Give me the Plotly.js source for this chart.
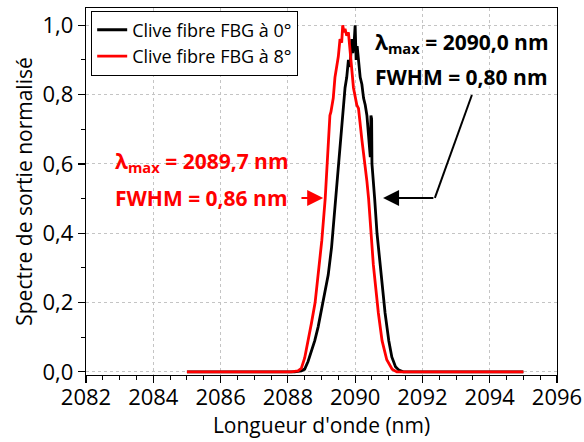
<!DOCTYPE html>
<html>
<head>
<meta charset="utf-8">
<script src="https://cdn.plot.ly/plotly-3.0.1.min.js"></script>
<style>html,body{margin:0;padding:0;background:#fff;}#chart{width:584px;height:442px;}</style>
</head>
<body>
<div id="chart"></div>
<script>
// Clive fibre FBG à 0° (black)
const x0 = [2085, 2088.2, 2088.4, 2088.5, 2088.6, 2088.7, 2088.8, 2088.9, 2089.0, 2089.1, 2089.2, 2089.3, 2089.4, 2089.45, 2089.5, 2089.55, 2089.6, 2089.65, 2089.7, 2089.75, 2089.8, 2089.85, 2089.9, 2089.93, 2089.97, 2090.0, 2090.03, 2090.06, 2090.1, 2090.15, 2090.2, 2090.25, 2090.3, 2090.35, 2090.4, 2090.45, 2090.47, 2090.49, 2090.5, 2090.53, 2090.58, 2090.65, 2090.74, 2090.8, 2090.89, 2091.0, 2091.09, 2091.2, 2091.3, 2091.43, 2095];
const y0 = [0, 0, 0.003, 0.008, 0.03, 0.06, 0.09, 0.13, 0.18, 0.23, 0.28, 0.36, 0.48, 0.54, 0.58, 0.66, 0.71, 0.77, 0.82, 0.85, 0.90, 0.88, 0.96, 0.92, 0.95, 1.0, 0.90, 0.94, 0.89, 0.85, 0.83, 0.79, 0.77, 0.74, 0.68, 0.62, 0.74, 0.73, 0.60, 0.55, 0.50, 0.40, 0.31, 0.25, 0.17, 0.09, 0.043, 0.015, 0.005, 0, 0];
// Clive fibre FBG à 8° (red)
const x8 = [2085, 2088.1, 2088.3, 2088.4, 2088.5, 2088.61, 2088.7, 2088.81, 2088.9, 2089.01, 2089.11, 2089.16, 2089.21, 2089.25, 2089.28, 2089.35, 2089.4, 2089.45, 2089.5, 2089.55, 2089.6, 2089.63, 2089.67, 2089.7, 2089.75, 2089.8, 2089.85, 2089.9, 2089.95, 2090.05, 2090.1, 2090.2, 2090.3, 2090.35, 2090.4, 2090.54, 2090.69, 2090.8, 2090.94, 2091.1, 2091.24, 2095];
const y8 = [0, 0, 0.003, 0.01, 0.04, 0.09, 0.14, 0.20, 0.28, 0.38, 0.50, 0.58, 0.67, 0.74, 0.75, 0.79, 0.85, 0.88, 0.91, 0.96, 0.95, 1.0, 0.98, 0.99, 0.97, 0.98, 0.92, 0.87, 0.82, 0.77, 0.76, 0.67, 0.60, 0.55, 0.50, 0.31, 0.17, 0.09, 0.035, 0.008, 0, 0];

const seriesNames = ["Clive fibre FBG à 0°", "Clive fibre FBG à 8°"];
const xTicks = [2082, 2084, 2086, 2088, 2090, 2092, 2094, 2096];
const yTicks = [0, 0.2, 0.4, 0.6, 0.8, 1.0];

const FONT = "'Open Sans', 'Noto Sans', sans-serif";

const traces = [
  {x: x0, y: y0, name: seriesNames[0], type: 'scatter', mode: 'lines',
   line: {color: '#000000', width: 2.8}},
  {x: x8, y: y8, name: seriesNames[1], type: 'scatter', mode: 'lines',
   line: {color: '#ff0000', width: 2.8}}
];

const axisCommon = {
  showline: true, mirror: true, linecolor: '#000', linewidth: 1.2,
  ticks: 'outside', ticklen: 7, tickwidth: 1.2, tickcolor: '#000',
  showgrid: true, gridcolor: '#c4c4c4', griddash: 'dot', gridwidth: 1,
  zeroline: false,
  tickfont: {family: FONT, size: 22, color: '#000'}
};

const layout = {
  width: 584, height: 442,
  margin: {l: 86, r: 27, t: 8, b: 67},
  paper_bgcolor: '#fff', plot_bgcolor: '#fff',
  separators: ', ',
  font: {family: FONT, color: '#000'},
  showlegend: true,
  legend: {
    x: 0.011, y: 0.993, xanchor: 'left', yanchor: 'top',
    bgcolor: '#fff', bordercolor: '#000', borderwidth: 1,
    font: {family: FONT, size: 18, color: '#000'},
    tracegroupgap: 0
  },
  xaxis: Object.assign({}, axisCommon, {
    range: [2082, 2096], tickvals: xTicks, tickformat: 'd',
    ticklabelstandoff: -5,
    minor: {ticks: 'outside', ticklen: 4, tickwidth: 1, tickcolor: '#000', dtick: 0.5, showgrid: false},
    title: {text: "Longueur d'onde (nm)", font: {family: FONT, size: 21, color: '#000'}, standoff: 5}
  }),
  yaxis: Object.assign({}, axisCommon, {
    range: [-0.009, 1.05], tickvals: yTicks, tickformat: '.1f',
    minor: {ticks: 'outside', ticklen: 4, tickwidth: 1, tickcolor: '#000', dtick: 0.1, showgrid: false},
    title: {text: 'Spectre de sortie normalisé', font: {family: FONT, size: 21, color: '#000'}, standoff: 4}
  }),
  annotations: [
    {x: 2082.8, y: 0.606, xref: 'x', yref: 'y', xanchor: 'left', yanchor: 'middle', showarrow: false,
     text: '<b>λ<sub>max</sub> = 2089,7 nm</b>', font: {family: FONT, size: 21, color: '#ff0000'}},
    {x: 2082.8, y: 0.502, xref: 'x', yref: 'y', xanchor: 'left', yanchor: 'middle', showarrow: false,
     text: '<b>FWHM = 0,86 nm</b>', font: {family: FONT, size: 21, color: '#ff0000'}},
    {x: 2089.05, y: 0.502, ax: 2088.36, ay: 0.502, xref: 'x', yref: 'y', axref: 'x', ayref: 'y',
     text: '', showarrow: true, arrowhead: 2, arrowsize: 1.6, arrowwidth: 2, arrowcolor: '#ff0000'},
    {x: 2090.53, y: 0.949, xref: 'x', yref: 'y', xanchor: 'left', yanchor: 'middle', showarrow: false,
     text: '<b>λ<sub>max</sub> = 2090,0 nm</b>', font: {family: FONT, size: 21, color: '#000'}},
    {x: 2090.53, y: 0.851, xref: 'x', yref: 'y', xanchor: 'left', yanchor: 'middle', showarrow: false,
     text: '<b>FWHM = 0,80 nm</b>', font: {family: FONT, size: 21, color: '#000'}},
    {x: 2090.83, y: 0.502, ax: 2092.37, ay: 0.502, xref: 'x', yref: 'y', axref: 'x', ayref: 'y',
     text: '', showarrow: true, arrowhead: 2, arrowsize: 1.6, arrowwidth: 2, arrowcolor: '#000'}
  ],
  shapes: [
    {type: 'line', xref: 'x', yref: 'y', x0: 2093.47, y0: 0.799, x1: 2092.37, y1: 0.502,
     line: {color: '#000', width: 2}}
  ]
};

Plotly.newPlot('chart', traces, layout, {displayModeBar: false, staticPlot: true});
</script>
</body>
</html>
